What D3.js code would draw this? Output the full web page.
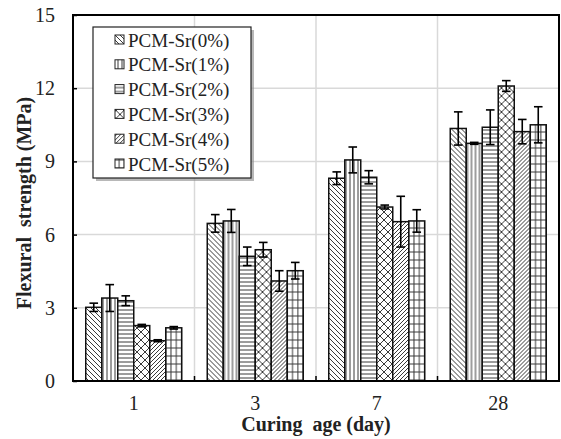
<!DOCTYPE html>
<html>
<head>
<meta charset="utf-8">
<script src="https://cdn.jsdelivr.net/npm/d3@7"></script>
<style>
  body { margin: 0; background: #fff; }
  svg, svg text { font-family: "Liberation Serif", "Times New Roman", Times, "DejaVu Serif", serif; }
</style>
</head>
<body>
<div id="chart"></div>
<script>
// categories and series
var categories = ["1", "3", "7", "28"];
var seriesNames = ["PCM-Sr(0%)", "PCM-Sr(1%)", "PCM-Sr(2%)", "PCM-Sr(3%)", "PCM-Sr(4%)", "PCM-Sr(5%)"];

// mean flexural strength per curing age (MPa)
var sr0 = [3.02, 6.46, 8.31, 10.35];
var sr1 = [3.40, 6.56, 9.06, 9.74];
var sr2 = [3.29, 5.11, 8.35, 10.40];
var sr3 = [2.27, 5.38, 7.13, 12.09];
var sr4 = [1.65, 4.10, 6.53, 10.22];
var sr5 = [2.18, 4.52, 6.56, 10.50];

// error bars (+/-)
var err0 = [0.17, 0.36, 0.26, 0.68];
var err1 = [0.55, 0.47, 0.53, 0.04];
var err2 = [0.20, 0.38, 0.27, 0.71];
var err3 = [0.05, 0.30, 0.08, 0.22];
var err4 = [0.04, 0.42, 1.04, 0.50];
var err5 = [0.05, 0.34, 0.46, 0.74];

var yTicks = [0, 3, 6, 9, 12, 15];

var values = [sr0, sr1, sr2, sr3, sr4, sr5];
var errors = [err0, err1, err2, err3, err4, err5];

var width = 561, height = 439;
var margin = {top: 15, right: 2, bottom: 58, left: 73};

var svg = d3.select("#chart").append("svg")
    .attr("width", width)
    .attr("height", height);

// hatch patterns
var defs = svg.append("defs");
function pattern(id, w, h, paths) {
  var p = defs.append("pattern")
      .attr("id", id)
      .attr("patternUnits", "userSpaceOnUse")
      .attr("width", w)
      .attr("height", h);
  p.append("rect").attr("width", w).attr("height", h).attr("fill", "#fff");
  paths.forEach(function(d) {
    p.append("path").attr("d", d).attr("stroke", "#3a3a3a").attr("stroke-width", 1).attr("fill", "none");
  });
}
pattern("p0", 5, 5, ["M-1,-1 L6,6", "M-1,4 L1,6", "M4,-1 L6,1"]);
pattern("p1", 4, 4, ["M2,0 L2,4"]);
pattern("p2", 4, 4, ["M0,2 L4,2"]);
pattern("p3", 8, 8, ["M0,0 L8,8", "M8,0 L0,8"]);
pattern("p4", 4, 4, ["M-1,5 L5,-1", "M-1,1 L1,-1", "M3,5 L5,3"]);
pattern("p5", 5.3, 8, ["M2.6,0 L2.6,8", "M0,4 L5.3,4"]);

var x0 = d3.scaleBand()
    .domain(categories)
    .range([margin.left, width - margin.right])
    .padding(0);

var x1 = d3.scaleBand()
    .domain(d3.range(seriesNames.length))
    .range([12.75, x0.bandwidth() - 12.75])
    .padding(0);

var y = d3.scaleLinear()
    .domain([0, 15])
    .range([height - margin.bottom, margin.top]);

var plotTop = margin.top, plotBottom = height - margin.bottom;
var plotLeft = margin.left, plotRight = width - margin.right;

// gridlines
svg.append("g").selectAll("line")
    .data(yTicks.slice(1, -1))
  .enter().append("line")
    .attr("x1", plotLeft).attr("x2", plotRight)
    .attr("y1", function(d) { return y(d); })
    .attr("y2", function(d) { return y(d); })
    .attr("stroke", "#d9d9d9").attr("stroke-width", 1.5);

svg.append("g").selectAll("line")
    .data(categories.slice(1))
  .enter().append("line")
    .attr("x1", function(d) { return x0(d); })
    .attr("x2", function(d) { return x0(d); })
    .attr("y1", plotTop).attr("y2", plotBottom)
    .attr("stroke", "#d9d9d9").attr("stroke-width", 1.5);

// bars
var groups = svg.append("g").selectAll("g")
    .data(categories)
  .enter().append("g")
    .attr("transform", function(d) { return "translate(" + x0(d) + ",0)"; });

groups.selectAll("rect")
    .data(function(d, ci) { return values.map(function(s, si) { return {si: si, v: s[ci], e: errors[si][ci]}; }); })
  .enter().append("rect")
    .attr("x", function(d) { return x1(d.si); })
    .attr("y", function(d) { return y(d.v); })
    .attr("width", x1.bandwidth())
    .attr("height", function(d) { return y(0) - y(d.v); })
    .attr("fill", function(d) { return "url(#p" + d.si + ")"; })
    .attr("stroke", "#111")
    .attr("stroke-width", 1.5);

// error bars
var eb = groups.selectAll("g.err")
    .data(function(d, ci) { return values.map(function(s, si) { return {si: si, v: s[ci], e: errors[si][ci]}; }); })
  .enter().append("g")
    .attr("class", "err")
    .attr("stroke", "#000")
    .attr("stroke-width", 1.6);
eb.append("line")
    .attr("x1", function(d) { return x1(d.si) + x1.bandwidth() / 2; })
    .attr("x2", function(d) { return x1(d.si) + x1.bandwidth() / 2; })
    .attr("y1", function(d) { return y(d.v - d.e); })
    .attr("y2", function(d) { return y(d.v + d.e); });
[-1, 1].forEach(function(sgn) {
  eb.append("line")
    .attr("x1", function(d) { return x1(d.si) + x1.bandwidth() / 2 - 4.3; })
    .attr("x2", function(d) { return x1(d.si) + x1.bandwidth() / 2 + 4.3; })
    .attr("y1", function(d) { return y(d.v + sgn * d.e); })
    .attr("y2", function(d) { return y(d.v + sgn * d.e); });
});

// frame
svg.append("rect")
    .attr("x", plotLeft).attr("y", plotTop)
    .attr("width", plotRight - plotLeft).attr("height", plotBottom - plotTop)
    .attr("fill", "none").attr("stroke", "#000").attr("stroke-width", 2);

// y axis
var yAxis = svg.append("g")
    .attr("transform", "translate(" + plotLeft + ",0)")
    .call(d3.axisLeft(y).tickValues(yTicks).tickSize(-4).tickPadding(18));
yAxis.attr("font-family", null);
yAxis.select(".domain").remove();
yAxis.selectAll(".tick line").attr("stroke", "#000").attr("stroke-width", 1.5);
yAxis.selectAll("text")
    .attr("font-size", 20)
    .attr("fill", "#222");

// x axis
var xAxis = svg.append("g")
    .attr("transform", "translate(0," + plotBottom + ")")
    .call(d3.axisBottom(x0).tickSize(0).tickPadding(15));
xAxis.attr("font-family", null);
xAxis.select(".domain").remove();
xAxis.selectAll("text")
    .attr("font-size", 20)
    .attr("fill", "#222");

// small category separator ticks
svg.append("g").selectAll("line")
    .data(categories.slice(1))
  .enter().append("line")
    .attr("x1", function(d) { return x0(d); })
    .attr("x2", function(d) { return x0(d); })
    .attr("y1", plotBottom).attr("y2", plotBottom - 5)
    .attr("stroke", "#000").attr("stroke-width", 1.5);

// axis titles
svg.append("text")
    .attr("x", (plotLeft + plotRight) / 2)
    .attr("y", 431)
    .attr("text-anchor", "middle")
    .attr("font-size", 20)
    .attr("font-weight", "bold")
    .attr("fill", "#222")
    .attr("xml:space", "preserve")
    .text("Curing  age (day)");

svg.append("text")
    .attr("transform", "translate(31," + 203 + ") rotate(-90)")
    .attr("text-anchor", "middle")
    .attr("font-size", 20)
    .attr("font-weight", "bold")
    .attr("fill", "#222")
    .attr("xml:space", "preserve")
    .text("Flexural  strength (MPa)");

// legend
var lg = svg.append("g");
lg.append("rect")
    .attr("x", 96).attr("y", 30).attr("width", 158).attr("height", 151)
    .attr("fill", "#888").attr("opacity", 0.6);
lg.append("rect")
    .attr("x", 93).attr("y", 27).attr("width", 158).attr("height", 151)
    .attr("fill", "#fff").attr("stroke", "#222").attr("stroke-width", 1.2);

var items = lg.selectAll("g.item")
    .data(seriesNames)
  .enter().append("g")
    .attr("class", "item")
    .attr("transform", function(d, i) { return "translate(0," + (40 + i * 24.8) + ")"; });
items.append("rect")
    .attr("x", 115).attr("y", -5).attr("width", 9).attr("height", 9)
    .attr("fill", function(d, i) { return "url(#p" + i + ")"; })
    .attr("stroke", "#222").attr("stroke-width", 1);
items.append("text")
    .attr("x", 128).attr("y", 0).attr("dy", "0.35em")
    .attr("font-size", 19)
    .attr("fill", "#222")
    .text(function(d) { return d; });
</script>
</body>
</html>
